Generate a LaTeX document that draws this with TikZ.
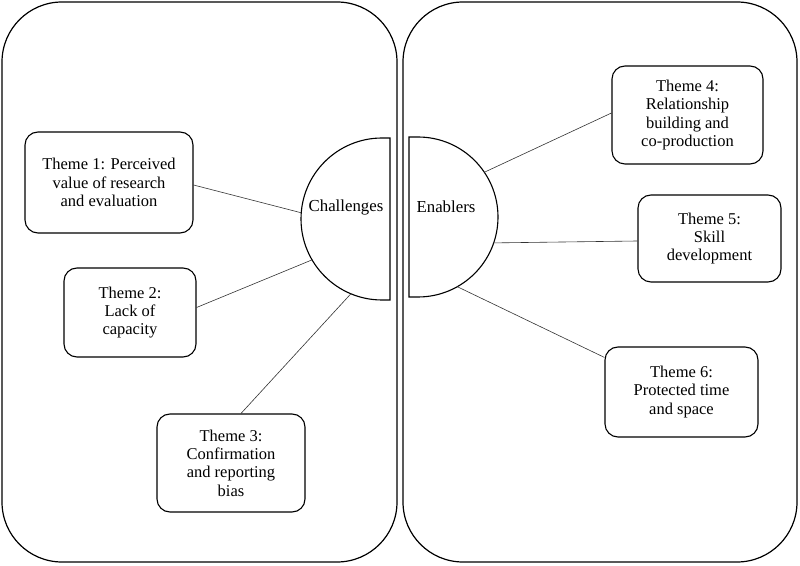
\documentclass[tikz,border=0pt]{standalone}
\usepackage{fontspec}
\setmainfont{Liberation Serif}
\begin{document}
\begin{tikzpicture}[x=1pt,y=1pt,
  panel/.style={draw=black, line width=1.2pt, rounded corners=60pt},
  half/.style={draw=black, line width=1.1pt, fill=white},
  theme/.style={draw=black, line width=1.1pt, rounded corners=13pt, align=center,
    inner sep=0pt, font=\fontsize{16.5pt}{18.3pt}\selectfont},
  hub/.style={inner sep=0pt, font=\fontsize{16.8pt}{19pt}\selectfont},
  link/.style={draw=black!80, line width=0.6pt}]
\useasboundingbox (0,0) rectangle (800,565);

% two rounded panels
\draw[panel] (2,3) rectangle (397,563);
\draw[panel] (403,3) rectangle (797,563);

% half discs
\coordinate (cc) at (382,346);
\coordinate (ec) at (418,348);
\draw[half] (390,427) -- (382,427) arc[start angle=90, end angle=270, radius=81pt] -- (390,265) -- cycle;
\draw[half] (409,428) -- (418,428) arc[start angle=90, end angle=-90, radius=80pt] -- (409,268) -- cycle;
\node[hub] (ch) at (346,358) {Challenges};
\node[hub] (en) at (446,358) {Enablers};

% attachment points on the arcs
\path (cc) ++(175.6:81pt) coordinate (a1);
\path (cc) ++(210.3:81pt) coordinate (a2);
\path (cc) ++(247.4:81pt) coordinate (a3);
\path (ec) ++(34:80pt) coordinate (b1);
\path (ec) ++(-18.9:80pt) coordinate (b2);
\path (ec) ++(-60.6:80pt) coordinate (b3);

% theme boxes
\node[theme, minimum width=168pt, minimum height=101pt] (t1) at (109,382.5)
  {Theme 1: Perceived\\value of research\\and evaluation};
\node[theme, minimum width=132pt, minimum height=89pt] (t2) at (130,252.5)
  {Theme 2:\\Lack of\\capacity};
\node[theme, minimum width=148pt, minimum height=98pt] (t3) at (231,102)
  {Theme 3:\\Confirmation\\and reporting\\bias};
\node[theme, minimum width=151pt, minimum height=98pt] (t4) at (687.5,450)
  {Theme 4:\\Relationship\\building and\\co-production};
\node[theme, minimum width=143pt, minimum height=87pt] (t5) at (709.5,326.5)
  {Theme 5:\\Skill\\development};
\node[theme, minimum width=153pt, minimum height=90pt] (t6) at (681.5,173)
  {Theme 6:\\Protected time\\and space};

% connectors
\draw[link] ([yshift=-2.5pt]t1.east) -- (a1);
\draw[link] ([yshift=5pt]t2.east) -- (a2);
\draw[link] ([xshift=10pt]t3.north) -- (a3);
\draw[link] ([yshift=2pt]t4.west) -- (b1);
\draw[link] ([yshift=-2.5pt]t5.west) -- (b2);
\draw[link] ([yshift=-11pt]t6.north west) -- (b3);
\end{tikzpicture}
\end{document}
